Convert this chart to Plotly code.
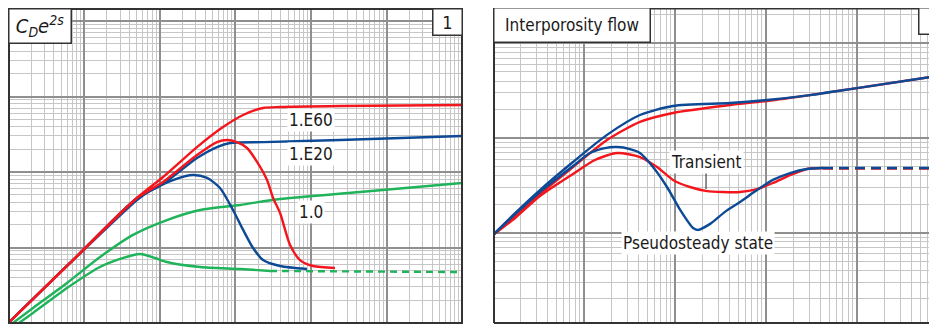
import plotly.graph_objects as go

# ---------------- Panel 1 data (x: tD/CD, y: pD & derivative) ----------------
red_p_x = [0.01, 0.0655, 0.502, 1.11, 3.12, 6.89, 12.7, 23.3, 39.1, 243, 10000]
red_p_y = [0.1, 0.624, 4.53, 8.59, 21.4, 39.4, 56.9, 70.5, 72.6, 74.8, 77.1]

red_d_x = [0.01, 0.0655, 0.502, 1.11, 3.12, 5.74, 7.78, 10.5, 14.3, 19.4, 26.3, 31.6, 39.1, 53.0, 71.8, 107, 208]
red_d_y = [0.1, 0.624, 4.53, 7.38, 16.8, 24.9, 26.5, 24.9, 20.8, 13.6, 7.83, 4.53, 2.86, 1.08, 0.682, 0.569, 0.535]

blue_p_x = [0.01, 0.0655, 0.502, 1.11, 3.12, 5.74, 8.53, 23.3, 243, 10000]
blue_p_y = [0.1, 0.624, 4.53, 6.93, 15.3, 21.4, 24.2, 24.9, 26.5, 30.0]

blue_d_x = [0.01, 0.0655, 0.502, 0.746, 1.50, 2.77, 4.24, 6.28, 9.33, 12.7, 17.2, 23.3, 39.1, 88.7]
blue_d_y = [0.1, 0.624, 4.26, 5.60, 7.83, 9.12, 8.34, 6.14, 3.14, 1.71, 0.984, 0.682, 0.569, 0.519]

green_p_x = [0.0115, 0.0212, 0.0597, 0.163, 0.445, 1.25, 3.42, 11.6, 39.1, 446, 10000]
green_p_y = [0.1, 0.158, 0.339, 0.748, 1.47, 2.31, 3.14, 3.66, 4.39, 5.43, 7.14]

green_d_x = [0.0138, 0.0212, 0.0597, 0.163, 0.300, 0.551, 0.869, 1.25, 3.42, 11.6, 28.8]
green_d_y = [0.1, 0.136, 0.291, 0.552, 0.705, 0.820, 0.726, 0.643, 0.552, 0.519, 0.489]
green_dash_x = [28.8, 9350]
green_dash_y = [0.489, 0.473]

# ---------------- Panel 2 data ----------------
r_blue_p_x = [0.1, 0.175, 0.328, 0.757, 1.79, 4.12, 9.51, 40.2, 103, 305, 1000, 7570]
r_blue_p_y = [0.946, 1.61, 2.82, 5.58, 10.8, 17.5, 21.8, 23.4, 25.2, 28.4, 33.7, 45.2]

r_red_p_x = [0.1, 0.175, 0.328, 0.757, 1.79, 4.12, 9.51, 40.2, 103, 305, 1000, 7570]
r_red_p_y = [0.946, 1.47, 2.56, 4.94, 9.53, 14.8, 18.4, 22.3, 24.6, 28.4, 33.7, 45.2]

r_blue_d_x = [0.1, 0.175, 0.328, 0.757, 1.16, 1.70, 2.31, 3.20, 4.12, 5.73, 8.17, 11.4, 15.8, 17.9,
              24.3, 35.4, 51.8, 79.6, 119, 184, 282, 423]
r_blue_d_y = [0.946, 1.57, 2.69, 5.06, 6.95, 7.83, 8.03, 7.65, 6.95, 4.94, 3.04, 1.74, 1.12, 1.07,
              1.24, 1.66, 2.11, 2.82, 3.61, 4.27, 4.71, 4.82]
r_blue_dash_x = [423, 7570]
r_blue_dash_y = [4.82, 4.82]

r_red_d_x = [0.1, 0.175, 0.328, 0.757, 1.32, 2.31, 4.12, 6.34, 9.51, 14.6, 22.5, 33.7, 51.8, 79.6,
             119, 184, 282, 423]
r_red_d_y = [0.946, 1.43, 2.44, 4.17, 5.86, 6.95, 6.30, 4.94, 3.61, 3.04, 2.75, 2.69, 2.69, 2.89,
             3.35, 4.06, 4.71, 4.82]
r_red_dash_x = [423, 7570]
r_red_dash_y = [4.76, 4.76]

RED = "#f3161c"
BLUE = "#0d4a96"
GREEN = "#1fb35a"
LW = 2.4
FONT = "DejaVu Sans Condensed, Liberation Sans Narrow, Arial Narrow, sans-serif"
TXT = "#1a1a1a"

fig = go.Figure()

def add(x, y, color, xa="x", ya="y", dash="solid"):
    fig.add_trace(go.Scatter(x=x, y=y, mode="lines", xaxis=xa, yaxis=ya,
                             line=dict(color=color, width=LW, shape="spline", smoothing=0.7, dash=dash),
                             hoverinfo="skip", showlegend=False))

# panel 1
add(green_p_x, green_p_y, GREEN)
add(green_d_x, green_d_y, GREEN)
add(green_dash_x, green_dash_y, GREEN, dash="7px,5px")
add(blue_p_x, blue_p_y, BLUE)
add(blue_d_x, blue_d_y, BLUE)
add(red_p_x, red_p_y, RED)
add(red_d_x, red_d_y, RED)

# panel 2
add(r_red_p_x, r_red_p_y, RED, "x2", "y2")
add(r_red_d_x, r_red_d_y, RED, "x2", "y2")
add(r_red_dash_x, r_red_dash_y, RED, "x2", "y2", dash="10px,6px")
add(r_blue_p_x, r_blue_p_y, BLUE, "x2", "y2")
add(r_blue_d_x, r_blue_d_y, BLUE, "x2", "y2")
add(r_blue_dash_x, r_blue_dash_y, BLUE, "x2", "y2", dash="10px,6px")

# page has an 8px body margin: figure pixel = screen pixel - 8
W, H = 929, 318
MAJ = "#8f8f8f"
MIN = "#c6c6c6"
BORDER = "#333333"

# panel edges in figure pixels
L1, R1, T1, B1 = 1.0, 454.0, 1.0, 315.0
L2, R2, T2, B2 = 486.0, 929.0, 0.5, 315.0

def px(xp):
    return xp / W

def py(yp):
    return (H - yp) / H

def axis(rng, dom):
    return dict(type="log", range=rng, domain=dom, dtick=1, showgrid=True, gridcolor=MAJ, gridwidth=1.5,
                minor=dict(dtick="D1", showgrid=True, gridcolor=MIN, gridwidth=1, ticks=""),
                showticklabels=False, ticks="", zeroline=False, showline=False, fixedrange=True)

fig.update_layout(
    width=W, height=H, margin=dict(l=0, r=0, t=0, b=0),
    paper_bgcolor="white", plot_bgcolor="white",
    xaxis=axis([-1.991, 3.997], [px(L1), px(R1)]),
    yaxis=axis([-1.0, 3.159], [py(B1), py(T1)]),
    xaxis2=axis([-0.989, 3.879], [px(L2), 1.0]),
    yaxis2=axis([-0.9535, 2.368], [py(B2), py(T2)]),
    hovermode=False,
)
fig.layout.xaxis.anchor = "y"
fig.layout.yaxis.anchor = "x"
fig.layout.xaxis2.anchor = "y2"
fig.layout.yaxis2.anchor = "x2"

# panel borders
shapes = [
    dict(type="rect", xref="paper", yref="paper", x0=px(L1), x1=px(R1), y0=py(B1), y1=py(T1),
         line=dict(color=BORDER, width=2), layer="above"),
    dict(type="line", xref="paper", yref="paper", x0=px(L2), x1=px(L2), y0=py(B2), y1=py(T2),
         line=dict(color=BORDER, width=2), layer="above"),
    dict(type="line", xref="paper", yref="paper", x0=px(L2), x1=1.0, y0=py(B2), y1=py(B2),
         line=dict(color=BORDER, width=2), layer="above"),
    dict(type="line", xref="paper", yref="paper", x0=px(L2), x1=1.0, y0=py(T2), y1=py(T2),
         line=dict(color=BORDER, width=2), layer="above"),
]
fig.update_layout(shapes=shapes)

ann = []
def label(text, x, y, xref="x", yref="y", size=17):
    ann.append(dict(text=text, x=x, y=y, xref=xref, yref=yref, showarrow=False,
                    font=dict(family=FONT, size=size, color=TXT), bgcolor="white", borderpad=1))

label("1.E60", 2.001, 1.695)
label("1.E20", 2.001, 1.232)
label("1.0", 2.005, 0.470)
label("Pseudosteady state", 1.253, -0.109, "x2", "y2")
ann.append(dict(text="Transient", x=1.341, y=0.461, xref="x2", yref="y2", showarrow=True,
                ax=0, ay=-27, arrowhead=0, arrowwidth=1.2, arrowcolor="#444",
                font=dict(family=FONT, size=17, color=TXT), bgcolor="white", borderpad=1))

def box(text, cx, cy, w, h, size=17):
    ann.append(dict(text=text, x=px(cx), y=py(cy), xref="paper", yref="paper",
                    xanchor="center", yanchor="middle", showarrow=False, width=w, height=h,
                    font=dict(family=FONT, size=size, color=TXT), bgcolor="white",
                    bordercolor=BORDER, borderwidth=1.5, borderpad=0))

box("<i>C<sub>D</sub>e<sup>2s</sup></i>", 31.5, 17.5, 61, 33, 20)
box("1", 439, 13.5, 28, 25, 18)
box("Interporosity flow", 563.5, 16.5, 155, 33)
box("2", 925, 12.5, 28, 25, 18)

fig.update_layout(annotations=ann)
fig.write_html("out.html")
